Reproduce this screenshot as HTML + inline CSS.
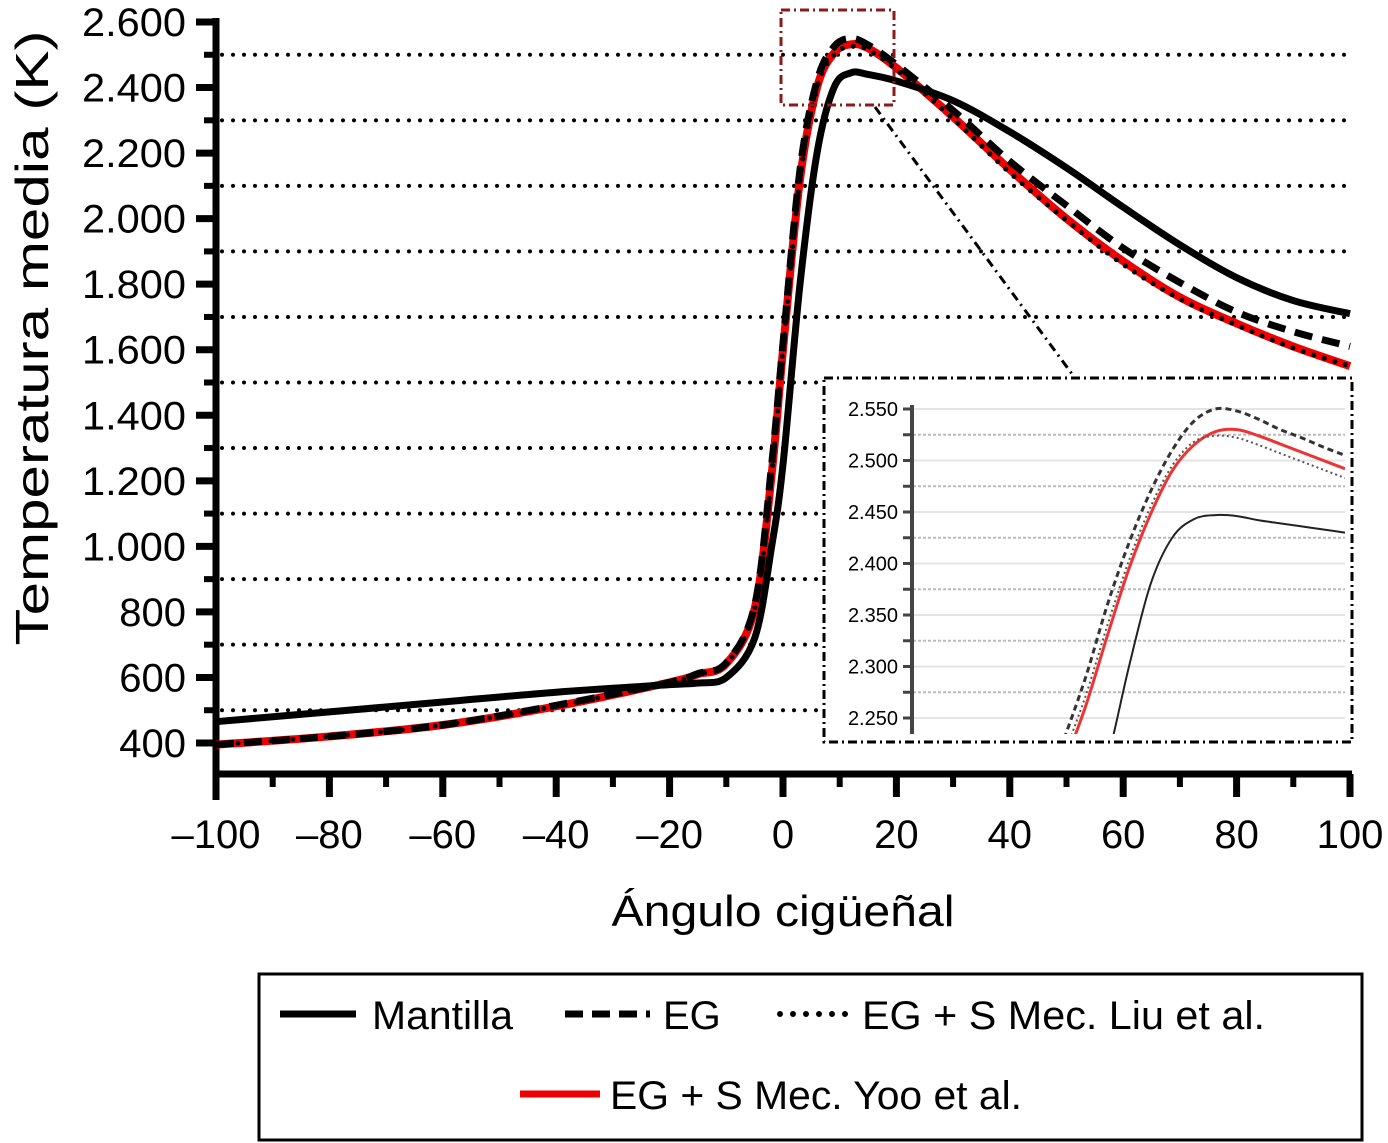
<!DOCTYPE html>
<html><head><meta charset="utf-8"><style>
html,body{margin:0;padding:0;background:#fff;}
svg{display:block;font-family:"Liberation Sans",sans-serif;}
</style></head><body>
<svg id="chart" width="1388" height="1143" viewBox="0 0 1388 1143">
<g id="grid"></g>
<g id="axes"></g>
<g id="series"></g>
<g id="inset"></g>
<text x="783" y="926" font-size="44" text-anchor="middle" textLength="343" lengthAdjust="spacingAndGlyphs">Ángulo cigüeñal</text>
<text transform="translate(48,338) rotate(-90)" font-size="46" text-anchor="middle" textLength="615" lengthAdjust="spacingAndGlyphs">Temperatura media (K)</text>
<g>
<rect x="259" y="974" width="1103" height="166" fill="none" stroke="#000" stroke-width="3"/>
<g><line x1="280" y1="1014" x2="356" y2="1014" stroke="#000" stroke-width="7"/><text x="372" y="1029" font-size="40" textLength="141" lengthAdjust="spacingAndGlyphs">Mantilla</text></g>
<g><line x1="565" y1="1014" x2="650" y2="1014" stroke="#000" stroke-width="7" stroke-dasharray="18,9"/><text x="663" y="1029" font-size="40">EG</text></g>
<g><line x1="780" y1="1014" x2="850" y2="1014" stroke="#000" stroke-width="6" stroke-linecap="round" stroke-dasharray="0,13"/><text x="862" y="1029" font-size="40" textLength="403" lengthAdjust="spacingAndGlyphs">EG + S Mec. Liu et al.</text></g>
<g><line x1="520" y1="1094" x2="600" y2="1094" stroke="#e00" stroke-width="7"/><text x="610" y="1109" font-size="40" textLength="412" lengthAdjust="spacingAndGlyphs">EG + S Mec. Yoo et al.</text></g>
</g>
</svg>
<script>
const xVals=[-100,-80,-60,-40,-20,-15,-10,-5,-2,0,3,6,9,12,15,20,30,40,50,60,70,80,90,100];
const mantilla=[465,495,525,555,578,583,600,720,1000,1250,1800,2200,2400,2445,2440,2420,2360,2265,2155,2035,1920,1820,1750,1710];
const eg=[395,420,455,515,585,612,645,820,1250,1620,2150,2420,2525,2550,2530,2470,2330,2175,2040,1910,1805,1715,1655,1610];
const yoo=[395,420,455,512,585,610,642,810,1220,1600,2120,2400,2505,2532,2520,2460,2310,2150,2000,1870,1760,1680,1610,1550];
const liu=[395,420,455,512,585,610,642,810,1220,1600,2120,2400,2500,2525,2515,2455,2305,2140,1995,1860,1755,1675,1605,1550];
const xTicks=[-100,-80,-60,-40,-20,0,20,40,60,80,100];
const yTicks=[400,600,800,1000,1200,1400,1600,1800,2000,2200,2400,2600];
const yTickLabels=["400","600","800","1.000","1.200","1.400","1.600","1.800","2.000","2.200","2.400","2.600"];
const gridVals=[500,700,900,1100,1300,1500,1700,1900,2100,2300,2500];
// inset data
const insX=[7,8,9,10,11,12,13,14,15,16,17,18,19,20];
const insEG=[2230,2290,2360,2420,2470,2510,2538,2550,2548,2540,2530,2522,2513,2505];
const insYoo=[2205,2262,2330,2395,2448,2490,2515,2528,2530,2524,2516,2508,2500,2492];
const insLiu=[2215,2272,2340,2403,2455,2495,2518,2524,2522,2515,2507,2499,2491,2483];
const insMan=[2100,2150,2210,2300,2380,2425,2443,2447,2446,2442,2439,2436,2433,2430];
const insTicks=[2250,2300,2350,2400,2450,2500,2550];
const insTickLabels=["2.250","2.300","2.350","2.400","2.450","2.500","2.550"];

const NS="http://www.w3.org/2000/svg";
const X=v=>216+(v+100)*(1134/200);
const Y=v=>743-(v-400)*(721/2200);
const IX=v=>913+v*(432/20);
const IY=v=>718-(v-2250)*(309/300);
function mk(tag,attrs,parent){const e=document.createElementNS(NS,tag);for(const k in attrs)e.setAttribute(k,attrs[k]);parent.appendChild(e);return e;}
function smooth(pts){let d="M"+pts[0][0]+","+pts[0][1];for(let i=0;i<pts.length-1;i++){const p0=pts[i-1]||pts[i],p1=pts[i],p2=pts[i+1],p3=pts[i+2]||p2;const t=6;d+=" C"+(p1[0]+(p2[0]-p0[0])/t)+","+(p1[1]+(p2[1]-p0[1])/t)+" "+(p2[0]-(p3[0]-p1[0])/t)+","+(p2[1]-(p3[1]-p1[1])/t)+" "+p2[0]+","+p2[1];}return d;}
const grid=document.getElementById('grid'),axes=document.getElementById('axes'),series=document.getElementById('series'),inset=document.getElementById('inset');
gridVals.forEach(v=>{const l=mk('line',{x1:222,x2:1350,y1:Y(v),y2:Y(v),stroke:'#000','stroke-width':4,'stroke-linecap':'round','stroke-dasharray':'0,11'},grid);

});
mk('line',{x1:216,y1:18,x2:216,y2:800,stroke:'#000','stroke-width':7},axes);
mk('line',{x1:213,y1:774,x2:1352,y2:774,stroke:'#000','stroke-width':7},axes);
for(let v=500;v<=2500;v+=200){mk('line',{x1:204,x2:216,y1:Y(v),y2:Y(v),stroke:'#000','stroke-width':6},axes);}
yTicks.forEach((v,i)=>{mk('line',{x1:196,x2:216,y1:Y(v),y2:Y(v),stroke:'#000','stroke-width':7},axes);
const t=mk('text',{x:186,y:Y(v)+14,'font-size':40,'text-anchor':'end'},axes);t.textContent=yTickLabels[i];
if(yTickLabels[i].length===5){t.setAttribute('textLength',104);t.setAttribute('lengthAdjust','spacingAndGlyphs');}

});
for(let v=-90;v<100;v+=20){mk('line',{x1:X(v),x2:X(v),y1:774,y2:787,stroke:'#000','stroke-width':6},axes);}
xTicks.forEach(v=>{mk('line',{x1:X(v),x2:X(v),y1:774,y2:797,stroke:'#000','stroke-width':7},axes);
const t=mk('text',{x:X(v),y:848,'font-size':40,'text-anchor':'middle'},axes);t.textContent=(v<0?'\u2013'+(-v):v);

});
function line(ys,xs,fx,fy,attrs,parent,name){const p=mk('path',Object.assign({d:smooth(xs.map((x,i)=>[fx(x),fy(ys[i])])),fill:'none'},attrs),parent);

}
line(yoo,xVals,X,Y,{stroke:'#e00','stroke-width':8},series,'series-yoo');
line(liu,xVals,X,Y,{stroke:'#000','stroke-width':5,'stroke-linecap':'round','stroke-dasharray':'0,11'},series,'series-liu');
line(eg,xVals,X,Y,{stroke:'#000','stroke-width':7,'stroke-dasharray':'18,10'},series,'series-eg');
line(mantilla,xVals,X,Y,{stroke:'#000','stroke-width':7},series,'series-mantilla');
// zoom box and connector
mk('rect',{x:781,y:10,width:113,height:95,fill:'none',stroke:'#8b1a1a','stroke-width':3,'stroke-dasharray':'9,4,2,4'},series);
mk('line',{x1:875,y1:107,x2:1075,y2:378,stroke:'#000','stroke-width':3,'stroke-dasharray':'9,5,2,5'},series);
// inset
mk('rect',{x:824,y:378,width:528,height:364,fill:'#fff',stroke:'none'},inset);
const cp=mk('clipPath',{id:'ic'},inset);mk('rect',{x:915,y:390,width:430,height:344},cp);
for(let v=2250;v<=2550;v+=25){const dark=(v%50===25);mk('line',{x1:913,x2:1345,y1:IY(v),y2:IY(v),stroke:dark?'#bbb':'#e4e4e4','stroke-width':2,'stroke-dasharray':dark?'3,2':'none'},inset);
mk('line',{x1:903,x2:913,y1:IY(v),y2:IY(v),stroke:'#444','stroke-width':3},inset);}
mk('line',{x1:912,y1:405,x2:912,y2:734,stroke:'#444','stroke-width':4},inset);
insTicks.forEach((v,i)=>{const t=mk('text',{x:898,y:IY(v)+7,'font-size':20,'text-anchor':'end'},inset);t.textContent=insTickLabels[i];

});
const ig=mk('g',{'clip-path':'url(#ic)'},inset);
line(insYoo,insX,IX,IY,{stroke:'#e33','stroke-width':3},ig,'inset-yoo');
line(insLiu,insX,IX,IY,{stroke:'#555','stroke-width':2,'stroke-dasharray':'2,3'},ig,'inset-liu');
line(insEG,insX,IX,IY,{stroke:'#333','stroke-width':3,'stroke-dasharray':'6,4'},ig,'inset-eg');
line(insMan,insX,IX,IY,{stroke:'#222','stroke-width':2},ig,'inset-mantilla');
mk('rect',{x:824,y:378,width:528,height:364,fill:'none',stroke:'#000','stroke-width':3,'stroke-dasharray':'9,4,2,4'},inset);
</script>
</body></html>
